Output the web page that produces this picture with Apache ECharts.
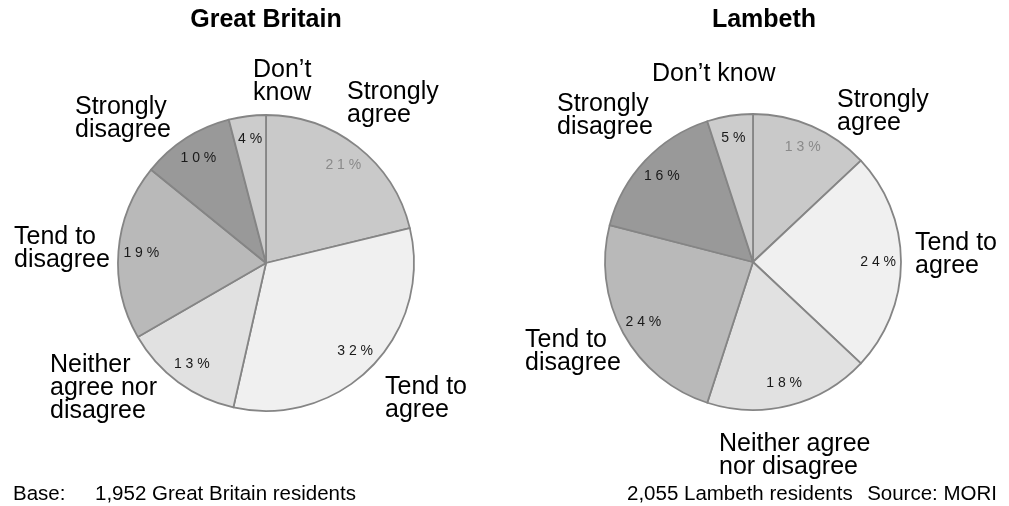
<!DOCTYPE html>
<html>
<head>
<meta charset="utf-8">
<script src="https://cdn.jsdelivr.net/npm/echarts@6/dist/echarts.min.js"></script>
<style>
  html, body { margin: 0; padding: 0; background: #ffffff; }
  #chart { width: 1009px; height: 506px; }
</style>
</head>
<body>
<div id="chart"></div>
<script>
// Survey response categories, in clockwise order from 12 o'clock
const categories = ['Strongly agree', 'Tend to agree', 'Neither agree nor disagree', 'Tend to disagree', 'Strongly disagree', 'Don\u2019t know'];
// Percentages of respondents
const gbValues = [21, 32, 13, 19, 10, 4];
const lambethValues = [13, 24, 18, 24, 16, 5];
// Panel titles and footnotes
const panelTitles = ['Great Britain', 'Lambeth'];
const baseLabel = 'Base:';
const gbBase = '1,952 Great Britain residents';
const lambethBase = '2,055 Lambeth residents';
const sourceNote = 'Source: MORI';
// Category captions around each pie (line breaks as drawn)
const gbCaptions = ['Strongly\nagree', 'Tend to\nagree', 'Neither\nagree nor\ndisagree', 'Tend to\ndisagree', 'Strongly\ndisagree', 'Don\u2019t\nknow'];
const lambethCaptions = ['Strongly\nagree', 'Tend to\nagree', 'Neither agree\nnor disagree', 'Tend to\ndisagree', 'Strongly\ndisagree', 'Don\u2019t know'];

const sliceColors = ['#c9c9c9', '#f0f0f0', '#e1e1e1', '#b9b9b9', '#999999', '#cccccc'];
const valueLabelColors = ['#8a8a8a', '#1a1a1a', '#1a1a1a', '#1a1a1a', '#1a1a1a', '#1a1a1a'];
const FONT = '"Liberation Sans", Arial, Helvetica, sans-serif';

const R = 148;
const pies = [
  { values: gbValues, center: [266, 263], captions: gbCaptions,
    captionPos: [[347, 80], [385, 375], [50, 353], [14, 225], [75, 95], [253, 58]] },
  { values: lambethValues, center: [753, 262], captions: lambethCaptions,
    captionPos: [[837, 88], [915, 231], [719, 432], [525, 328], [557, 92], [652, 62]] }
];

const series = [];
const graphic = [];

pies.forEach(function (p) {
  // Filled slices
  series.push({
    type: 'pie',
    center: p.center,
    radius: R,
    startAngle: 90,
    clockwise: true,
    animation: false,
    silent: true,
    label: { show: false },
    labelLine: { show: false },
    itemStyle: { borderColor: '#858585', borderWidth: 1.8 },
    data: categories.map(function (c, i) {
      return { name: c, value: p.values[i], itemStyle: { color: sliceColors[i] } };
    })
  });
  // Percentage labels, placed inside the slices near the rim
  series.push({
    type: 'pie',
    center: p.center,
    radius: R * 1.65,
    startAngle: 90,
    clockwise: true,
    animation: false,
    silent: true,
    z: 5,
    itemStyle: { color: 'rgba(0,0,0,0)', borderWidth: 0 },
    labelLine: { show: false },
    label: {
      show: true,
      position: 'inside',
      fontFamily: FONT,
      fontSize: 14,
      formatter: function (d) { return (String(d.value) + '%').split('').join(' '); }
    },
    data: categories.map(function (c, i) {
      return { name: c, value: p.values[i], label: { color: valueLabelColors[i] } };
    })
  });
  // Category captions
  p.captions.forEach(function (t, i) {
    graphic.push({
      type: 'text',
      left: p.captionPos[i][0],
      top: p.captionPos[i][1],
      silent: true,
      style: { text: t, font: '25px ' + FONT, fill: '#000', lineHeight: 23, align: 'left', verticalAlign: 'top' }
    });
  });
});

// Panel titles
panelTitles.forEach(function (t, i) {
  graphic.push({
    type: 'text',
    x: i === 0 ? 266 : 764,
    y: 20,
    silent: true,
    style: { text: t, font: 'bold 25px ' + FONT, fill: '#000', align: 'center', verticalAlign: 'middle' }
  });
});

// Footnotes
[[baseLabel, 13, 'left'], [gbBase, 95, 'left'], [lambethBase, 627, 'left'], [sourceNote, 997, 'right']].forEach(function (f) {
  graphic.push({
    type: 'text',
    x: f[1],
    y: 494,
    silent: true,
    style: { text: f[0], font: '20.5px ' + FONT, fill: '#000', align: f[2], verticalAlign: 'middle' }
  });
});

const chart = echarts.init(document.getElementById('chart'), null, { renderer: 'canvas' });
chart.setOption({
  backgroundColor: '#ffffff',
  animation: false,
  series: series,
  graphic: graphic
});
</script>
</body>
</html>
